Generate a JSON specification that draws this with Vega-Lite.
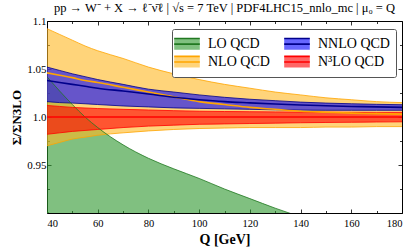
{
 "$schema": "https://vega.github.io/schema/vega-lite/v6.json",
 "width": 355, "height": 192,
 "autosize": {"type": "none"},
 "padding": {"left": 47, "top": 21, "right": 12, "bottom": 36},
 "config": {
  "view": {"stroke": "black", "strokeWidth": 1},
  "font": "Liberation Serif",
  "axis": {"grid": false, "domain": false, "tickColor": "black", "tickWidth": 0.8, "labelColor": "black", "labelFont": "Liberation Serif", "titleFont": "Liberation Serif", "titleColor": "black"}
 },
 "title": {"text": "pp → W⁻ + X → ℓ⁻ν̄ℓ  |  √s = 7 TeV  |  PDF4LHC15_nnlo_mc  |  μ₀ = Q", "fontSize": 12.5, "fontWeight": "normal", "font": "Liberation Serif", "offset": 1, "anchor": "middle", "color": "black"},
 "data": {"values": [
  {"o":"LO QCD","Q":40,"lo":0.801,"c":0.901,"hi":1.042},
  {"o":"LO QCD","Q":45,"lo":0.788,"c":0.888,"hi":1.027},
  {"o":"LO QCD","Q":50,"lo":0.776,"c":0.876,"hi":1.013},
  {"o":"LO QCD","Q":55,"lo":0.766,"c":0.866,"hi":1.000},
  {"o":"LO QCD","Q":60,"lo":0.757,"c":0.857,"hi":0.989},
  {"o":"LO QCD","Q":70,"lo":0.742,"c":0.842,"hi":0.971},
  {"o":"LO QCD","Q":80,"lo":0.730,"c":0.830,"hi":0.957},
  {"o":"LO QCD","Q":90,"lo":0.720,"c":0.820,"hi":0.946},
  {"o":"LO QCD","Q":100,"lo":0.711,"c":0.811,"hi":0.936},
  {"o":"LO QCD","Q":110,"lo":0.702,"c":0.802,"hi":0.925},
  {"o":"LO QCD","Q":120,"lo":0.694,"c":0.794,"hi":0.915},
  {"o":"LO QCD","Q":130,"lo":0.686,"c":0.786,"hi":0.905},
  {"o":"LO QCD","Q":140,"lo":0.679,"c":0.779,"hi":0.896},
  {"o":"LO QCD","Q":150,"lo":0.672,"c":0.772,"hi":0.887},
  {"o":"LO QCD","Q":160,"lo":0.666,"c":0.766,"hi":0.879},
  {"o":"LO QCD","Q":170,"lo":0.660,"c":0.760,"hi":0.871},
  {"o":"LO QCD","Q":180,"lo":0.654,"c":0.754,"hi":0.864},
  {"o":"NLO QCD","Q":40,"lo":0.970,"c":1.046,"hi":1.092},
  {"o":"NLO QCD","Q":45,"lo":0.9735,"c":1.0435,"hi":1.086},
  {"o":"NLO QCD","Q":50,"lo":0.977,"c":1.041,"hi":1.080},
  {"o":"NLO QCD","Q":55,"lo":0.979,"c":1.038,"hi":1.074},
  {"o":"NLO QCD","Q":60,"lo":0.981,"c":1.036,"hi":1.069},
  {"o":"NLO QCD","Q":70,"lo":0.9835,"c":1.031,"hi":1.061},
  {"o":"NLO QCD","Q":80,"lo":0.9855,"c":1.026,"hi":1.052},
  {"o":"NLO QCD","Q":90,"lo":0.987,"c":1.021,"hi":1.045},
  {"o":"NLO QCD","Q":100,"lo":0.988,"c":1.016,"hi":1.039},
  {"o":"NLO QCD","Q":110,"lo":0.9885,"c":1.013,"hi":1.034},
  {"o":"NLO QCD","Q":120,"lo":0.989,"c":1.010,"hi":1.030},
  {"o":"NLO QCD","Q":130,"lo":0.989,"c":1.008,"hi":1.026},
  {"o":"NLO QCD","Q":140,"lo":0.989,"c":1.006,"hi":1.023},
  {"o":"NLO QCD","Q":150,"lo":0.9895,"c":1.005,"hi":1.020},
  {"o":"NLO QCD","Q":160,"lo":0.9895,"c":1.004,"hi":1.018},
  {"o":"NLO QCD","Q":170,"lo":0.990,"c":1.0035,"hi":1.016},
  {"o":"NLO QCD","Q":180,"lo":0.990,"c":1.003,"hi":1.015},
  {"o":"NNLO QCD","Q":40,"lo":1.016,"c":1.038,"hi":1.052},
  {"o":"NNLO QCD","Q":45,"lo":1.015,"c":1.036,"hi":1.0485},
  {"o":"NNLO QCD","Q":50,"lo":1.0145,"c":1.034,"hi":1.045},
  {"o":"NNLO QCD","Q":55,"lo":1.0138,"c":1.032,"hi":1.042},
  {"o":"NNLO QCD","Q":60,"lo":1.013,"c":1.030,"hi":1.039},
  {"o":"NNLO QCD","Q":70,"lo":1.0115,"c":1.027,"hi":1.034},
  {"o":"NNLO QCD","Q":80,"lo":1.0105,"c":1.024,"hi":1.029},
  {"o":"NNLO QCD","Q":90,"lo":1.0095,"c":1.0205,"hi":1.026},
  {"o":"NNLO QCD","Q":100,"lo":1.009,"c":1.018,"hi":1.023},
  {"o":"NNLO QCD","Q":110,"lo":1.0085,"c":1.016,"hi":1.0205},
  {"o":"NNLO QCD","Q":120,"lo":1.008,"c":1.0147,"hi":1.0185},
  {"o":"NNLO QCD","Q":130,"lo":1.0075,"c":1.0135,"hi":1.017},
  {"o":"NNLO QCD","Q":140,"lo":1.0072,"c":1.0125,"hi":1.0155},
  {"o":"NNLO QCD","Q":150,"lo":1.007,"c":1.0117,"hi":1.0145},
  {"o":"NNLO QCD","Q":160,"lo":1.007,"c":1.011,"hi":1.0138},
  {"o":"NNLO QCD","Q":170,"lo":1.007,"c":1.0105,"hi":1.0132},
  {"o":"NNLO QCD","Q":180,"lo":1.007,"c":1.010,"hi":1.0128},
  {"o":"N³LO QCD","Q":40,"lo":0.982,"c":1.0,"hi":1.012},
  {"o":"N³LO QCD","Q":45,"lo":0.9835,"c":1.0,"hi":1.011},
  {"o":"N³LO QCD","Q":50,"lo":0.985,"c":1.0,"hi":1.010},
  {"o":"N³LO QCD","Q":55,"lo":0.986,"c":1.0,"hi":1.0094},
  {"o":"N³LO QCD","Q":60,"lo":0.987,"c":1.0,"hi":1.0088},
  {"o":"N³LO QCD","Q":70,"lo":0.989,"c":1.0,"hi":1.008},
  {"o":"N³LO QCD","Q":80,"lo":0.9905,"c":1.0,"hi":1.0073},
  {"o":"N³LO QCD","Q":90,"lo":0.9915,"c":1.0,"hi":1.0066},
  {"o":"N³LO QCD","Q":100,"lo":0.9924,"c":1.0,"hi":1.006},
  {"o":"N³LO QCD","Q":110,"lo":0.9928,"c":1.0,"hi":1.0057},
  {"o":"N³LO QCD","Q":120,"lo":0.9932,"c":1.0,"hi":1.0055},
  {"o":"N³LO QCD","Q":130,"lo":0.9936,"c":1.0,"hi":1.0053},
  {"o":"N³LO QCD","Q":140,"lo":0.994,"c":1.0,"hi":1.0051},
  {"o":"N³LO QCD","Q":150,"lo":0.9943,"c":1.0,"hi":1.005},
  {"o":"N³LO QCD","Q":160,"lo":0.9945,"c":1.0,"hi":1.0049},
  {"o":"N³LO QCD","Q":170,"lo":0.9948,"c":1.0,"hi":1.0048},
  {"o":"N³LO QCD","Q":180,"lo":0.995,"c":1.0,"hi":1.0048}
 ]},
 "layer": [
  {"mark": {"type": "area", "fillOpacity": 0.6, "clip": true, "interpolate": "monotone"},
   "encoding": {
    "x": {"field": "Q", "type": "quantitative", "scale": {"domain": [40, 180], "nice": false, "zero": false},
          "axis": {"orient": "bottom", "values": [40,60,80,100,120,140,160,180], "tickSize": -4, "labelPadding": 9, "labelFontSize": 10.5, "title": "Q [GeV]", "titleFontSize": 14, "titleFontWeight": "bold", "titlePadding": 4}},
    "y": {"field": "lo", "type": "quantitative", "scale": {"domain": [0.9, 1.1], "nice": false, "zero": false},
          "axis": {"orient": "left", "values": [0.95, 1, 1.05, 1.1], "tickSize": -4, "labelPadding": 5, "labelFontSize": 11, "labelExpr": "datum.value == 1 ? '1.0' : (datum.value == 1.1 ? '1.1' : format(datum.value, '.2f'))", "title": "Σ/ΣN3LO", "titleFontSize": 13, "titleFontWeight": "bold", "titlePadding": 3}},
    "y2": {"field": "hi"},
    "fill": {"field": "o", "type": "nominal",
             "scale": {"domain": ["LO QCD", "NLO QCD", "NNLO QCD", "N³LO QCD"], "range": ["#2b962b", "#ffb721", "#0000ff", "#ff0000"]},
             "legend": {"orient": "none", "legendX": 125, "legendY": 8, "columns": 2, "title": null,
                        "symbolType": "M-1.6,0H1.6M-1.6,-0.7H1.6V0.7H-1.6Z", "symbolSize": 256, "symbolStrokeWidth": 1.6, "symbolDash": [25.6, 300],
                        "labelFont": "Liberation Serif", "labelFontSize": 14, "labelColor": "black", "padding": 6, "fillColor": "white", "strokeColor": "#555", "cornerRadius": 2, "columnPadding": 11, "rowPadding": 0, "labelOffset": 12,
                        "encode": {"symbols": {"update": {"fillOpacity": {"value": 0.6}, "strokeOpacity": {"value": 1}, "stroke": {"scale": "stroke", "field": "value"}}}}}}
   }},
  {"mark": {"type": "line", "strokeWidth": 0.8, "clip": true, "interpolate": "monotone"},
   "encoding": {
    "x": {"field": "Q", "type": "quantitative", "axis": null},
    "y": {"field": "lo", "type": "quantitative", "axis": null},
    "stroke": {"field": "o", "type": "nominal",
               "scale": {"domain": ["LO QCD", "NLO QCD", "NNLO QCD", "N³LO QCD"], "range": ["#217821", "#ffa500", "#00008b", "#ff0000"]},
               "legend": null}
   }},
  {"mark": {"type": "line", "strokeWidth": 0.8, "clip": true, "interpolate": "monotone"},
   "encoding": {
    "x": {"field": "Q", "type": "quantitative", "axis": null},
    "y": {"field": "hi", "type": "quantitative", "axis": null},
    "stroke": {"field": "o", "type": "nominal", "legend": null}
   }},
  {"mark": {"type": "line", "strokeWidth": 1.6, "clip": true, "interpolate": "monotone"},
   "encoding": {
    "x": {"field": "Q", "type": "quantitative", "axis": null},
    "y": {"field": "c", "type": "quantitative", "axis": null},
    "stroke": {"field": "o", "type": "nominal", "legend": null}
   }},
  {"mark": {"type": "point", "opacity": 0},
   "encoding": {
    "x": {"field": "Q", "type": "quantitative", "axis": {"orient": "top", "values": [40,60,80,100,120,140,160,180], "tickSize": -4, "labels": false, "title": null}},
    "y": {"field": "c", "type": "quantitative", "axis": {"orient": "right", "values": [0.9, 0.95, 1, 1.05, 1.1], "tickSize": -4, "labels": false, "title": null}}
   }},
  {"mark": {"type": "point", "opacity": 0},
   "encoding": {
    "x": {"field": "Q", "type": "quantitative", "axis": {"orient": "bottom", "values": [50,70,90,110,130,150,170], "tickSize": -2.5, "labels": false, "title": null}},
    "y": {"field": "c", "type": "quantitative", "axis": {"orient": "left", "values": [0.925, 0.975, 1.025, 1.075], "tickSize": -2.5, "labels": false, "title": null}}
   }},
  {"mark": {"type": "point", "opacity": 0},
   "encoding": {
    "x": {"field": "Q", "type": "quantitative", "axis": {"orient": "top", "values": [50,70,90,110,130,150,170], "tickSize": -2.5, "labels": false, "title": null}},
    "y": {"field": "c", "type": "quantitative", "axis": {"orient": "right", "values": [0.925, 0.975, 1.025, 1.075], "tickSize": -2.5, "labels": false, "title": null}}
   }}
 ],
 "resolve": {"axis": {"x": "independent", "y": "independent"}}
}
